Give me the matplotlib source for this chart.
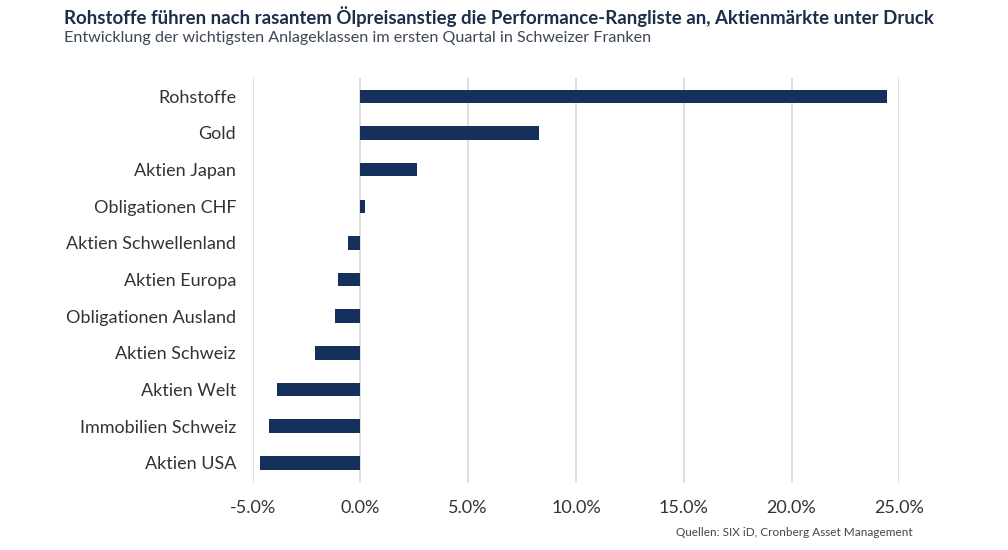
import matplotlib
matplotlib.use("Agg")
import matplotlib.pyplot as plt
from matplotlib.ticker import FuncFormatter

categories = ["Rohstoffe", "Gold", "Aktien Japan", "Obligationen CHF", "Aktien Schwellenland",
              "Aktien Europa", "Obligationen Ausland", "Aktien Schweiz", "Aktien Welt",
              "Immobilien Schweiz", "Aktien USA"]
values = [24.45, 8.27, 2.6, 0.22, -0.59, -1.02, -1.19, -2.1, -3.89, -4.26, -4.64]
xticks = [-5, 0, 5, 10, 15, 20, 25]

plt.rcParams['font.family'] = ['Lato', 'DejaVu Sans']

fig = plt.figure(figsize=(10.08, 5.5), dpi=100)
ax = fig.add_axes([252.7/1008, 1-483/550, (899.3-252.7)/1008, (483-78)/550])

ypos = list(range(len(categories)))[::-1]
ax.barh(ypos, values, height=0.37, color="#15305a", zorder=3)
ax.set_xlim(-5, 25)
ax.set_ylim(-0.55, len(categories)-0.5)
ax.set_yticks(ypos)
ax.set_yticklabels(categories, fontsize=13, color="#333333")
ax.set_xticks(xticks)
ax.xaxis.set_major_formatter(FuncFormatter(lambda v, p: f"{v:.1f}%"))
ax.tick_params(axis='x', labelsize=13, colors="#333333", length=0, pad=12)
ax.tick_params(axis='y', length=0, pad=12)
ax.grid(axis='x', color="#d9d9d9", linewidth=1.2, zorder=0)
for s in ax.spines.values():
    s.set_visible(False)

fig.text(64/1008, 1-17/550, "Rohstoffe führen nach rasantem Ölpreisanstieg die Performance-Rangliste an, Aktienmärkte unter Druck",
         fontsize=13.4, fontweight='bold', color="#1b2f4b", va='center', ha='left')
fig.text(64/1008, 1-38/550, "Entwicklung der wichtigsten Anlageklassen im ersten Quartal in Schweizer Franken",
         fontsize=11.6, color="#3b4656", va='center', ha='left')
fig.text(913/1008, 1-533/550, "Quellen: SIX iD, Cronberg Asset Management",
         fontsize=8.5, color="#3b4a42", va='center', ha='right')

fig.savefig("out.png", dpi=100)
